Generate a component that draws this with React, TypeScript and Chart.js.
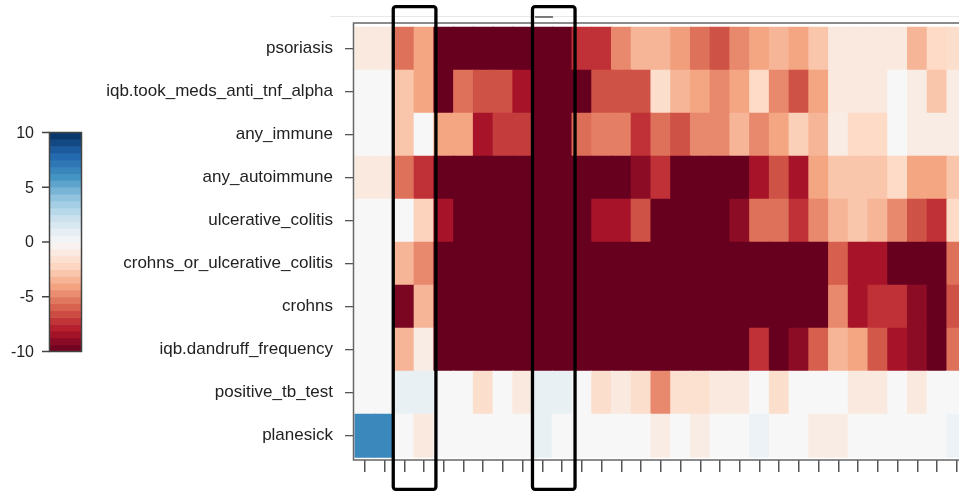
import React, { useEffect, useRef } from 'react';
import { Chart, registerables } from 'chart.js';

Chart.register(...registerables);

// ---------- data ----------
const rowLabels = [
  'psoriasis',
  'iqb.took_meds_anti_tnf_alpha',
  'any_immune',
  'any_autoimmune',
  'ulcerative_colitis',
  'crohns_or_ulcerative_colitis',
  'crohns',
  'iqb.dandruff_frequency',
  'positive_tb_test',
  'planesick',
];

const columns = [0, 1, 2, 3, 4, 5, 6, 7, 8, 9, 10, 11, 12, 13, 14, 15, 16, 17, 18, 19, 20, 21, 22, 23, 24, 25, 26, 27, 28, 29, 30];

const psoriasis = [-1, -1, -5.5, -4, -10, -10, -10, -10, -10, -10, -10, -7.3, -7.3, -4.8, -3.4, -3.4, -4.2, -5.5, -6.4, -4.8, -4, -3.4, -4, -2.8, -1, -1, -1, -1, -3.4, -2, -1.8];
const tookMedsAntiTnf = [0, 0, -2.8, -4, -10, -5.5, -6.4, -6.4, -8.3, -10, -10, -10, -6.4, -6.4, -6.4, -1.8, -3.4, -4, -4.8, -4, -2, -4.8, -6.4, -4, -1, -1, -1, 0, -0.8, -2.8, -0.8];
const anyImmune = [0, 0, -2.8, 0, -4, -4, -8.3, -7, -7, -10, -10, -5.6, -5.1, -5.1, -7.3, -5.5, -6.4, -4.8, -4.8, -3.4, -4.8, -4, -2.4, -3.4, -0.8, -2, -2, 0, -0.8, -0.8, -0.8];
const anyAutoimmune = [-1, -1, -5.5, -7.3, -10, -10, -10, -10, -10, -10, -10, -10, -10, -10, -9, -7.3, -10, -10, -10, -10, -8.3, -6.4, -8.3, -4, -2.8, -2.8, -2.8, -2, -4, -4, -2.8];
const ulcerativeColitis = [0, 0, 0, -2.3, -8.3, -10, -10, -10, -10, -10, -10, -10, -8.3, -8.3, -6.4, -10, -10, -10, -10, -9, -5.5, -5.5, -7.3, -4.8, -3.4, -2.8, -3.4, -4.8, -6.4, -7.3, -2];
const crohnsOrUc = [0, 0, -3.4, -4.8, -10, -10, -10, -10, -10, -10, -10, -10, -10, -10, -10, -10, -10, -10, -10, -10, -10, -10, -10, -10, -6, -8.3, -8.3, -10, -10, -10, -5.5];
const crohns = [0, 0, -9.5, -3.4, -10, -10, -10, -10, -10, -10, -10, -10, -10, -10, -10, -10, -10, -10, -10, -10, -10, -10, -10, -10, -4.8, -8.3, -7.3, -7.3, -9, -10, -6.4];
const dandruffFrequency = [0, 0, -3.4, -0.8, -10, -10, -10, -10, -10, -10, -10, -10, -10, -10, -10, -10, -10, -10, -10, -10, -7.3, -10, -9, -6, -3.4, -4, -6.2, -8.3, -9, -10, -5.5];
const positiveTbTest = [0, 0, 0.8, 0.8, 0, 0, -1.8, 0, -1, 0.8, 0.8, 0, -1.8, -1, -1.8, -4.8, -1.6, -1.6, -1, -1, 0, -1.8, 0, 0, 0, -1, -1, 0, -1, 0, 0];
const planesick = [6.5, 6.5, 0, -1, 0, 0, 0, 0, 0, 0.8, 0, 0, 0, 0, 0, -0.8, 0, -0.8, 0, 0, 0.6, 0, 0, -0.8, -0.8, 0, 0, 0, 0, 0, 0.6];

const rowValues = [
  psoriasis,
  tookMedsAntiTnf,
  anyImmune,
  anyAutoimmune,
  ulcerativeColitis,
  crohnsOrUc,
  crohns,
  dandruffFrequency,
  positiveTbTest,
  planesick,
];

const colorKeyTicks = [10, 5, 0, -5, -10];
const colorKeyMin = -10;
const colorKeyMax = 10;
const colorKeyBands = 32;

// RdBu palette stops
const paletteStops: [number, string][] = [
  [-10, '#67001f'],
  [-8, '#b2182b'],
  [-6, '#d6604d'],
  [-4, '#f4a582'],
  [-2, '#fddbc7'],
  [0, '#f7f7f7'],
  [2, '#d1e5f0'],
  [4, '#92c5de'],
  [6, '#4393c3'],
  [8, '#2166ac'],
  [10, '#053061'],
];

function hexToRgb(h: string) {
  return [parseInt(h.slice(1, 3), 16), parseInt(h.slice(3, 5), 16), parseInt(h.slice(5, 7), 16)];
}

function valueColor(v: number) {
  const c = Math.max(colorKeyMin, Math.min(colorKeyMax, v));
  for (let i = 0; i < paletteStops.length - 1; i++) {
    const [a, ca] = paletteStops[i];
    const [b, cb] = paletteStops[i + 1];
    if (c >= a && c <= b) {
      const t = (c - a) / (b - a);
      const ra = hexToRgb(ca);
      const rb = hexToRgb(cb);
      const m = ra.map((x, k) => Math.round(x + (rb[k] - x) * t));
      return `rgb(${m[0]},${m[1]},${m[2]})`;
    }
  }
  return paletteStops[paletteStops.length - 1][1];
}

const FONT = "'Liberation Sans', Arial, Helvetica, sans-serif";

const overlayPlugin = {
  id: 'overlay',
  afterDraw(chart: any) {
    const ctx = chart.ctx as CanvasRenderingContext2D;
    const xs = chart.scales.x;
    const area = chart.chartArea;
    ctx.save();

    // faint top guide line
    ctx.strokeStyle = '#e8e8e8';
    ctx.lineWidth = 1;
    ctx.beginPath();
    ctx.moveTo(330, 16.5);
    ctx.lineTo(chart.width, 16.5);
    ctx.stroke();
    ctx.strokeStyle = '#555';
    ctx.lineWidth = 1.5;
    ctx.beginPath();
    ctx.moveTo(535, 17);
    ctx.lineTo(553, 17);
    ctx.stroke();

    // plot frame
    ctx.strokeStyle = '#666';
    ctx.lineWidth = 1.5;
    ctx.beginPath();
    ctx.moveTo(chart.width, area.top);
    ctx.lineTo(area.left - 0.5, area.top);
    ctx.lineTo(area.left - 0.5, area.bottom);
    ctx.lineTo(chart.width, area.bottom);
    ctx.stroke();

    // colour key
    const kx = 49.5;
    const kw = 32;
    const ky0 = 132.5;
    const ky1 = 351.5;
    const kh = ky1 - ky0;
    const toY = (v: number) => ky1 - ((v - colorKeyMin) / (colorKeyMax - colorKeyMin)) * kh;
    const step = (colorKeyMax - colorKeyMin) / colorKeyBands;
    for (let i = 0; i < colorKeyBands; i++) {
      const lo = colorKeyMin + i * step;
      const hi = lo + step;
      ctx.fillStyle = valueColor((lo + hi) / 2);
      const yTop = toY(hi);
      const yBot = toY(lo);
      ctx.fillRect(kx, yTop, kw, yBot - yTop + 0.5);
    }
    ctx.strokeStyle = '#444';
    ctx.lineWidth = 1.5;
    ctx.strokeRect(kx, ky0, kw, kh);
    ctx.fillStyle = '#222';
    ctx.font = `16px ${FONT}`;
    ctx.textAlign = 'right';
    ctx.textBaseline = 'middle';
    for (const t of colorKeyTicks) {
      const y = toY(t);
      ctx.beginPath();
      ctx.moveTo(42, y);
      ctx.lineTo(kx, y);
      ctx.stroke();
      ctx.fillText(String(t), 34, y + 1);
    }

    // highlight boxes
    ctx.strokeStyle = '#000';
    ctx.lineWidth = 3.3;
    const boxes: [number, number][] = [
      [xs.getPixelForValue(1.5) - 1.2, xs.getPixelForValue(3.5) + 2],
      [xs.getPixelForValue(8.5) - 0.1, xs.getPixelForValue(10.5) + 3],
    ];
    for (const [l, r] of boxes) {
      ctx.beginPath();
      (ctx as any).roundRect(l, 6.7, r - l, 489.3 - 6.7, 2.5);
      ctx.stroke();
    }
    ctx.restore();
  },
};

export default function App() {
  const ref = useRef<HTMLCanvasElement>(null);

  useEffect(() => {
    if (!ref.current) return;
    Chart.defaults.font.family = FONT;
    const nRows = rowLabels.length;
    const order = rowLabels.map((_, i) => nRows - 1 - i); // bottom-up
    const datasets = order.map((r) => ({
      label: rowLabels[r],
      data: columns.map((c) => ({ x: c, y: 1 })),
      backgroundColor: rowValues[r].map((v) => valueColor(v)),
      borderWidth: 0,
      barPercentage: 1,
      categoryPercentage: 1,
      inflateAmount: 0.5,
    }));

    const chart = new Chart(ref.current, {
      type: 'bar',
      data: { datasets } as any,
      plugins: [overlayPlugin],
      options: {
        animation: false,
        responsive: false,
        devicePixelRatio: 1,
        layout: { padding: { top: 23, left: 0, right: 0, bottom: 0 } },
        plugins: { legend: { display: false }, tooltip: { enabled: false } },
        scales: {
          x: {
            type: 'linear',
            stacked: true,
            min: -0.55,
            max: 30.11,
            offset: false,
            grid: {
              display: true,
              offset: false,
              drawOnChartArea: false,
              drawTicks: true,
              tickLength: 12,
              color: '#555',
              lineWidth: 1.5,
            },
            border: { display: false },
            ticks: { display: false },
            afterBuildTicks: (s: any) => {
              s.ticks = columns.map((c) => ({ value: c }));
            },
            afterFit: (s: any) => {
              s.height = 32;
            },
          },
          y: {
            type: 'linear',
            stacked: true,
            min: -0.063,
            max: 10.1,
            grid: {
              display: true,
              drawOnChartArea: false,
              drawTicks: true,
              tickLength: 9,
              color: '#555',
              lineWidth: 1.3,
            },
            border: { display: false },
            ticks: {
              autoSkip: false,
              padding: 12,
              color: '#222',
              font: { size: 17, family: FONT },
              callback: (v: any) => rowLabels[nRows - 1 - Math.floor(Number(v))],
            },
            afterBuildTicks: (s: any) => {
              s.ticks = order.map((r, i) => ({ value: i + 0.5 }));
            },
            afterFit: (s: any) => {
              s.width = 354;
            },
          },
        },
      } as any,
    });
    return () => chart.destroy();
  }, []);

  return (
    <div style={{ position: 'absolute', left: 0, top: 0, width: 959, height: 492, background: '#fff' }}>
      <canvas ref={ref} width={959} height={492} style={{ display: 'block' }} />
    </div>
  );
}
